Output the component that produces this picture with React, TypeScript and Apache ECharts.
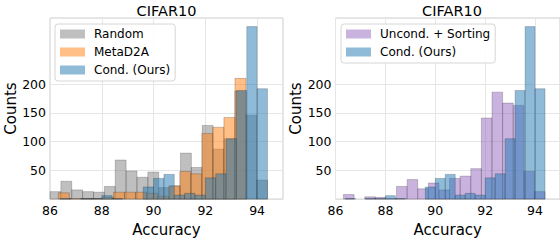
import React, { useEffect, useRef } from 'react';
import * as echarts from 'echarts';

// ---- data ----
const panelTitles = ['CIFAR10', 'CIFAR10'];
const xTicks = [86, 88, 90, 92, 94];
const yTicks = [50, 100, 150, 200];

// Random (grey): 20 bins starting 86.0, width 0.42
const randomStart = 86.0;
const randomWidth = 0.42;
const randomCounts = [13, 31, 16, 13, 12, 22, 68, 49, 38, 47, 20, 23, 80, 55, 128, 87, 105, 188, 146, 33];

// MetaD2A (orange): 17 bins starting 86.32, width 0.4265
const metaStart = 86.32;
const metaWidth = 0.4265;
const metaCounts = [11, 1, 1, 1, 3, 12, 12, 12, 10, 5, 23, 48, 44, 114, 125, 142, 210];

// Cond. (Ours) (blue): 20 bins starting 86.4, width 0.4
const condStart = 86.4;
const condWidth = 0.4;
const condCounts = [1, 0, 1, 1, 6, 1, 0, 0, 21, 36, 43, 7, 10, 7, 37, 44, 105, 189, 300, 192];

// Uncond. + Sorting (purple): 19 bins starting 86.32, width 0.4253
const uncondStart = 86.32;
const uncondWidth = 0.4253;
const uncondCounts = [8, 0, 4, 3, 1, 22, 34, 18, 28, 16, 36, 40, 53, 141, 186, 167, 163, 48, 13];

const FONT = 'DejaVu Sans';
const GREY = 'rgba(128,128,128,0.5)';
const ORANGE = 'rgba(255,127,14,0.5)';
const BLUE = 'rgba(31,119,180,0.5)';
const PURPLE = 'rgba(148,103,189,0.5)';
const EDGE = 'rgba(0,0,0,0.28)';
const GRIDC = '#e6e6e6';

function toBins(start: number, width: number, counts: number[]) {
  return counts
    .map((c, i) => [start + i * width, start + (i + 1) * width, c])
    .filter((d) => d[2] > 0);
}

function histSeries(name: string, data: number[][], fill: string, idx: number, z: number) {
  return {
    type: 'custom',
    name,
    xAxisIndex: idx,
    yAxisIndex: idx,
    z,
    itemStyle: { color: fill, borderColor: EDGE, borderWidth: 0.7 },
    encode: { x: [0, 1], y: 2 },
    data,
    renderItem: (_p: any, api: any) => {
      const a = api.coord([api.value(0), api.value(2)]);
      const b = api.coord([api.value(1), 0]);
      return {
        type: 'rect',
        shape: { x: a[0], y: a[1], width: b[0] - a[0], height: b[1] - a[1] },
        style: { fill, stroke: EDGE, lineWidth: 0.7 },
      };
    },
  };
}

const splitColors = ['rgba(0,0,0,0)', GRIDC, GRIDC, GRIDC, GRIDC, 'rgba(0,0,0,0)', 'rgba(0,0,0,0)', 'rgba(0,0,0,0)'];

function xAxis(idx: number) {
  return {
    gridIndex: idx,
    type: 'value',
    min: xTicks[0],
    max: 95,
    interval: 2,
    axisLine: { show: false },
    axisTick: { show: false },
    axisLabel: { fontSize: 12.5, color: '#000', fontFamily: FONT, margin: 5, showMaxLabel: false },
    splitLine: { show: true, lineStyle: { color: GRIDC, width: 1 } },
    name: 'Accuracy',
    nameLocation: 'middle',
    nameGap: 13,
    nameTextStyle: { fontSize: 15, color: '#000', fontFamily: FONT },
  };
}

function yAxis(idx: number) {
  return {
    gridIndex: idx,
    type: 'value',
    min: 0,
    max: 315,
    interval: 50,
    axisLine: { show: false },
    axisTick: { show: false },
    axisLabel: {
      fontSize: 12.5,
      color: '#000',
      fontFamily: FONT,
      margin: 4,
      formatter: (v: number) => (yTicks.indexOf(v) >= 0 ? String(v) : ''),
    },
    splitLine: { show: true, lineStyle: { color: splitColors, width: 1 } },
    name: 'Counts',
    nameLocation: 'middle',
    nameGap: 23,
    nameTextStyle: { fontSize: 15, color: '#000', fontFamily: FONT },
  };
}

function legend(left: number, names: string[], colors: string[]) {
  return {
    orient: 'vertical',
    left,
    top: 24,
    padding: [3, 5, 4, 5],
    itemWidth: 25,
    itemHeight: 9,
    itemGap: 4,
    borderColor: '#d6d6d6',
    borderWidth: 1,
    borderRadius: 3,
    backgroundColor: 'rgba(255,255,255,0.85)',
    icon: 'rect',
    textStyle: { fontSize: 12, color: '#000', fontFamily: FONT, lineHeight: 14, padding: [0, 0, 0, 4] },
    data: names.map((n, i) => ({ name: n, icon: 'rect', itemStyle: { color: colors[i], borderWidth: 0 } })),
  };
}

export default function App() {
  const ref = useRef<HTMLDivElement>(null);
  useEffect(() => {
    document.body.style.margin = '0';
    if (!ref.current) return;
    const chart = echarts.init(ref.current, undefined, { renderer: 'svg' });
    chart.setOption({
      animation: false,
      textStyle: { fontFamily: FONT },
      grid: [
        { left: 50, top: 18, width: 233, height: 193, show: true, borderColor: '#cccccc', borderWidth: 1, backgroundColor: 'rgba(0,0,0,0)' },
        { left: 335.5, top: 18, width: 233, height: 193, show: true, borderColor: '#cccccc', borderWidth: 1, backgroundColor: 'rgba(0,0,0,0)' },
      ],
      xAxis: [xAxis(0), xAxis(1)],
      yAxis: [yAxis(0), yAxis(1)],
      legend: [
        legend(55, ['Random', 'MetaD2A', 'Cond. (Ours)'], [GREY, ORANGE, BLUE]),
        legend(341, ['Uncond. + Sorting', 'Cond. (Ours)'], [PURPLE, BLUE]),
      ],
      graphic: [
        { type: 'text', x: 166.5, y: 11, style: { text: panelTitles[0], font: `14.5px "${FONT}"`, fill: '#000', textAlign: 'center', textVerticalAlign: 'middle' } },
        { type: 'text', x: 452, y: 11, style: { text: panelTitles[1], font: `14.5px "${FONT}"`, fill: '#000', textAlign: 'center', textVerticalAlign: 'middle' } },
      ],
      series: [
        histSeries('Random', toBins(randomStart, randomWidth, randomCounts), GREY, 0, 2),
        histSeries('MetaD2A', toBins(metaStart, metaWidth, metaCounts), ORANGE, 0, 3),
        histSeries('Cond. (Ours)', toBins(condStart, condWidth, condCounts), BLUE, 0, 4),
        histSeries('Uncond. + Sorting', toBins(uncondStart, uncondWidth, uncondCounts), PURPLE, 1, 2),
        histSeries('Cond. (Ours)', toBins(condStart, condWidth, condCounts), BLUE, 1, 3),
      ],
    });
    return () => chart.dispose();
  }, []);
  return <div ref={ref} style={{ width: 560, height: 242 }} />;
}
